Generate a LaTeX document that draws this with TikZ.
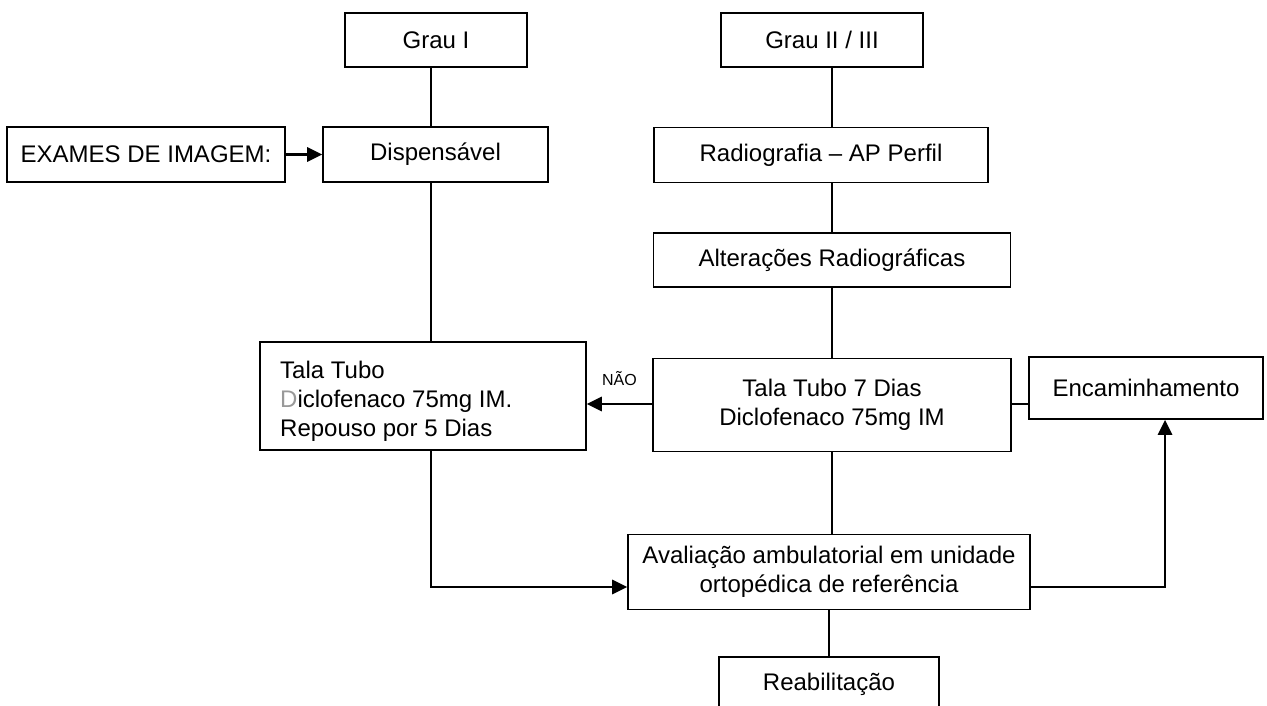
\documentclass[tikz,border=0pt]{standalone}
\usepackage{fontspec}
\setmainfont{Liberation Sans}
\usetikzlibrary{arrows.meta}
\begin{document}
\begin{tikzpicture}[x=1pt,y=-1pt,
  box/.style={draw, line width=1.6pt, rectangle, inner sep=0pt, align=center,
    font=\fontsize{24}{29}\selectfont},
  textblock/.style={inner sep=0pt, align=left, font=\fontsize{24}{29}\selectfont},
  link/.style={line width=1.6pt},
  arrowlink/.style={line width=2.8pt, -{Triangle[length=15pt,width=14pt]}},
  tag/.style={font=\fontsize{16}{18}\selectfont, inner sep=0pt}]
\useasboundingbox (0,0) rectangle (1267,706);

% left column
\node[box, minimum width=182, minimum height=54] (g1) at (436,40) {Grau I};
\node[box, minimum width=278, minimum height=55] (exames) at (146,154.5) {EXAMES DE IMAGEM:};
\node[box, minimum width=225, minimum height=55] (disp) at (435.5,154.5) {Dispensável};
\node[box, minimum width=326, minimum height=108] (tala1) at (423,396) {};
\node[textblock, anchor=west] (tala1text) at (280,401)
  {Tala Tubo\\{\color{black!40}D}iclofenaco 75mg IM.\\Repouso por 5 Dias};

% right column
\node[box, minimum width=202, minimum height=54] (g23) at (822,40) {Grau II / III};
\node[box, minimum width=334, minimum height=55] (radio) at (821,155) {Radiografia – AP Perfil};
\node[box, minimum width=357, minimum height=54] (alt) at (832,260) {Alterações Radiográficas};
\node[box, minimum width=358, minimum height=93] (tala7) at (832,405)
  {Tala Tubo 7 Dias\\Diclofenaco 75mg IM};
\node[box, minimum width=234, minimum height=62] (enc) at (1146,388) {Encaminhamento};
\node[box, minimum width=402, minimum height=75] (aval) at (829,572)
  {Avaliação ambulatorial em unidade\\ortopédica de referência};
\node[box, minimum width=220, minimum height=54] (reab) at (829,684) {Reabilitação};

% junction points of the bent connectors
\coordinate (xl) at (431,0);
\coordinate (xr) at (832,0);
\coordinate (yn) at (0,404);
\coordinate (j1) at (431,587);
\coordinate (j2) at (1165,587);

% connectors
\draw[link] (g1.south -| xl) -- (disp.north -| xl);
\draw[link] (disp.south -| xl) -- (tala1.north -| xl);
\draw[arrowlink] (exames.east) -- (disp.west);

\draw[link] (g23.south -| xr) -- (radio.north -| xr);
\draw[link] (radio.south -| xr) -- (alt.north -| xr);
\draw[link] (alt.south -| xr) -- (tala7.north -| xr);
\draw[arrowlink] (tala7.west |- yn) -- (tala1.east |- yn)
  node[tag, pos=0.5, above=17pt] (nao) {NÃO};
\draw[link] (tala7.east |- yn) -- (enc.west |- yn);
\draw[link] (tala7.south -| xr) -- (aval.north -| xr);

\draw[arrowlink] (tala1.south -| j1) -- (j1) -- (aval.west |- j1);
\draw[arrowlink] (aval.east |- j2) -- (j2) -- (enc.south -| j2);
\draw[link] (aval.south) -- (reab.north);
\end{tikzpicture}
\end{document}
